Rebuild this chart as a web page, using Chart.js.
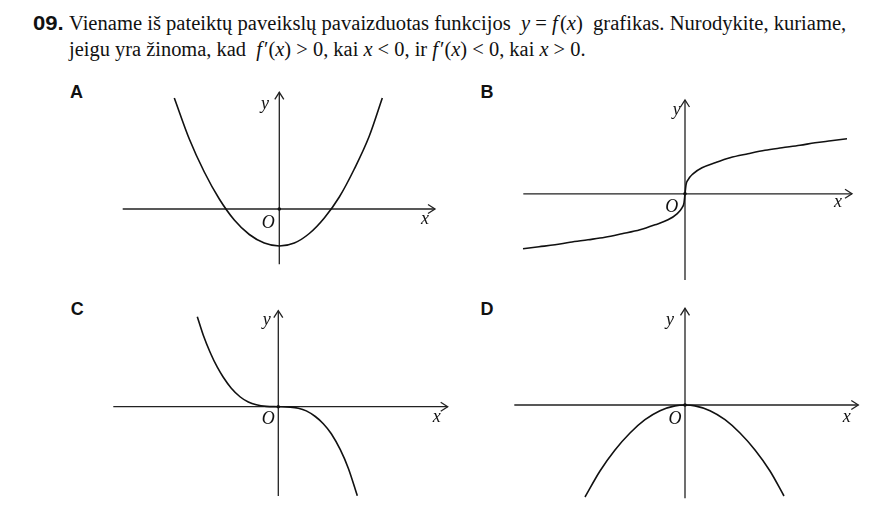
<!DOCTYPE html>
<html>
<head>
<meta charset="utf-8">
<script src="https://cdn.jsdelivr.net/npm/chart.js@4.4.0/dist/chart.umd.min.js"></script>
<style>
    body { margin: 0; background: #fff; width: 892px; height: 515px; position: relative; overflow: hidden;
           font-family: "Liberation Serif", "Times New Roman", serif; color: #111; }
    .num { position: absolute; left: 32.5px; top: 13px; font: bold 19.5px/20px "Liberation Sans", Arial, sans-serif;
           white-space: nowrap; transform-origin: 0 0; }
    .line { position: absolute; left: 69.3px; font-size: 20px; line-height: 20px; white-space: nowrap; transform-origin: 0 0; }
    .line i.f { padding-right: 2px; }
    .letter { position: absolute; font: bold 18px/18px "Liberation Sans", Arial, sans-serif; }
    canvas { position: absolute; }
</style>
</head>
<body>
<div class="num" id="num" data-w="30.6">09.</div>
<div class="line" id="l1" style="top:13.2px" data-w="777">Viename iš pateiktų paveikslų pavaizduotas funkcijos&nbsp; <i>y</i> = <i class="f">f</i>(<i>x</i>)&nbsp; grafikas. Nurodykite, kuriame,</div>
<div class="line" id="l2" style="top:39px" data-w="517">jeigu yra žinoma, kad&nbsp; <i class="f">f</i>′(<i>x</i>) &gt; 0, kai <i>x</i> &lt; 0, ir <i class="f">f</i>′(<i>x</i>) &lt; 0, kai <i>x</i> &gt; 0.</div>

<div class="letter" style="left:70px;top:82.8px">A</div>
<div class="letter" style="left:480.5px;top:82.8px">B</div>
<div class="letter" style="left:70.8px;top:299.8px">C</div>
<div class="letter" style="left:480.4px;top:299.8px">D</div>

<canvas id="cA"></canvas>
<canvas id="cB"></canvas>
<canvas id="cC"></canvas>
<canvas id="cD"></canvas>

<script>
// Curve points (units: px from the origin, y upwards)
const aX = [-105, -90, -75, -60, -45, -30, -15, 0, 15, 30, 45, 60, 75, 90, 103];
const aY = [111, 70, 37, 10, -11, -25.5, -34, -37, -34, -24.5, -9, 12, 40, 73, 111];

const bX = [-162, -146, -130, -115, -97, -80, -63, -45, -30, -17, -8, -3, -1, 0, 1, 3, 8, 17, 30, 45, 63, 80, 97, 115, 130, 146, 162];
const bY = [-55, -53, -51, -48.5, -46, -43.5, -40, -36, -31, -26, -20, -14, -9, 0, 9, 14, 20, 26, 31, 36, 40, 43.5, 46, 48.5, 51, 53, 55];

const cX = [-81, -75, -68, -61, -55, -47, -38, -30, -22, -12, 0, 12, 20, 28, 37, 45, 53, 62, 70, 79];
const cY = [90, 71.5, 54, 39.5, 29.5, 18.5, 9.7, 4.7, 1.9, 0.35, 0, -0.4, -1.5, -4.2, -9.8, -17, -27, -43, -61.5, -89];

const dX = [-100, -85, -70, -55, -40, -25, -10, 0, 10, 25, 40, 55, 70, 85, 99];
const dY = [-92, -66, -45, -28, -14.7, -5.7, -0.9, 0, -0.9, -5.7, -14.7, -28, -45, -66, -91];

// Where each graph sits on the page
const panels = [
    { id: 'cA', xs: aX, ys: aY, box: [110, 85, 340, 185], origin: [279.3, 209],
      axX: [-156.6, 155.7], axY: [-55.3, 116.7], lab: { y: [-14.3, 100.3], O: [-11, -18.7], x: [145.7, -15] } },
    { id: 'cB', xs: bX, ys: bY, box: [505, 95, 365, 190], origin: [685, 193.8],
      axX: [-161.7, 167], axY: [-86.2, 93.8], lab: { y: [-8.3, 78.5], O: [-13.3, -18.2], x: [153, -13.2] } },
    { id: 'cC', xs: cX, ys: cY, box: [100, 300, 360, 205], origin: [278.3, 406.7],
      axX: [-165, 169.4], axY: [-89.3, 96], lab: { y: [-11.6, 81.4], O: [-10, -17.6], x: [158.4, -15.6] } },
    { id: 'cD', xs: dX, ys: dY, box: [500, 300, 370, 205], origin: [685, 405],
      axX: [-170.7, 173.3], axY: [-93.3, 96.7], lab: { y: [-15, 79.7], O: [-10, -19.3], x: [161.7, -17.3] } }
];

function arrow(ctx, tx, ty, dx, dy) {
    // open chevron pointing along (dx, dy)
    const len = 7, half = 4.5;
    const px = -dy, py = dx;
    ctx.beginPath();
    ctx.moveTo(tx - dx * len + px * half, ty - dy * len + py * half);
    ctx.lineTo(tx, ty);
    ctx.lineTo(tx - dx * len - px * half, ty - dy * len - py * half);
    ctx.stroke();
}

const axesPlugin = {
    id: 'axes',
    beforeDatasetsDraw(chart, args, opts) {
        const { ctx, scales: { x, y } } = chart;
        const x0 = x.getPixelForValue(0), y0 = y.getPixelForValue(0);
        ctx.save();
        ctx.strokeStyle = '#222';
        ctx.lineWidth = 1.3;
        ctx.beginPath();
        ctx.moveTo(x.getPixelForValue(opts.axX[0]), y0);
        ctx.lineTo(x.getPixelForValue(opts.axX[1]), y0);
        ctx.moveTo(x0, y.getPixelForValue(opts.axY[0]));
        ctx.lineTo(x0, y.getPixelForValue(opts.axY[1]));
        ctx.stroke();
        arrow(ctx, x.getPixelForValue(opts.axX[1]), y0, 1, 0);
        arrow(ctx, x0, y.getPixelForValue(opts.axY[1]), 0, -1);
        ctx.restore();
    },
    afterDatasetsDraw(chart, args, opts) {
        const { ctx, scales: { x, y } } = chart;
        ctx.save();
        ctx.fillStyle = '#111';
        ctx.beginPath();
        ctx.arc(x.getPixelForValue(0), y.getPixelForValue(0), 1.8, 0, Math.PI * 2);
        ctx.fill();
        ctx.font = 'italic 18px "Liberation Serif", "Times New Roman", serif';
        ctx.textAlign = 'center';
        ctx.textBaseline = 'alphabetic';
        Object.keys(opts.lab).forEach(t => {
            const p = opts.lab[t];
            ctx.fillText(t, x.getPixelForValue(p[0]), y.getPixelForValue(p[1]));
        });
        ctx.restore();
    }
};

panels.forEach(p => {
    const [left, top, w, h] = p.box;
    const [ox, oy] = p.origin;
    const cv = document.getElementById(p.id);
    cv.width = w; cv.height = h;
    cv.style.left = left + 'px';
    cv.style.top = top + 'px';
    cv.style.width = w + 'px';
    cv.style.height = h + 'px';

    new Chart(cv, {
        type: 'line',
        data: {
            datasets: [{
                data: p.xs.map((v, i) => ({ x: v, y: p.ys[i] })),
                borderColor: '#111',
                borderWidth: 1.6,
                pointRadius: 0,
                fill: false,
                cubicInterpolationMode: 'monotone',
                clip: false
            }]
        },
        options: {
            responsive: false,
            animation: false,
            events: [],
            layout: { padding: 0 },
            plugins: {
                legend: { display: false },
                tooltip: { enabled: false },
                axes: { axX: p.axX, axY: p.axY, lab: p.lab }
            },
            scales: {
                x: { type: 'linear', display: false, min: left - ox, max: left + w - ox },
                y: { type: 'linear', display: false, min: oy - (top + h), max: oy - top }
            }
        },
        plugins: [axesPlugin]
    });
});

// squeeze the header lines to the widths they have in the picture
['num', 'l1', 'l2'].forEach(id => {
    const el = document.getElementById(id);
    const target = parseFloat(el.dataset.w);
    el.style.transform = 'scaleX(' + (target / el.offsetWidth) + ')';
});
</script>
</body>
</html>
